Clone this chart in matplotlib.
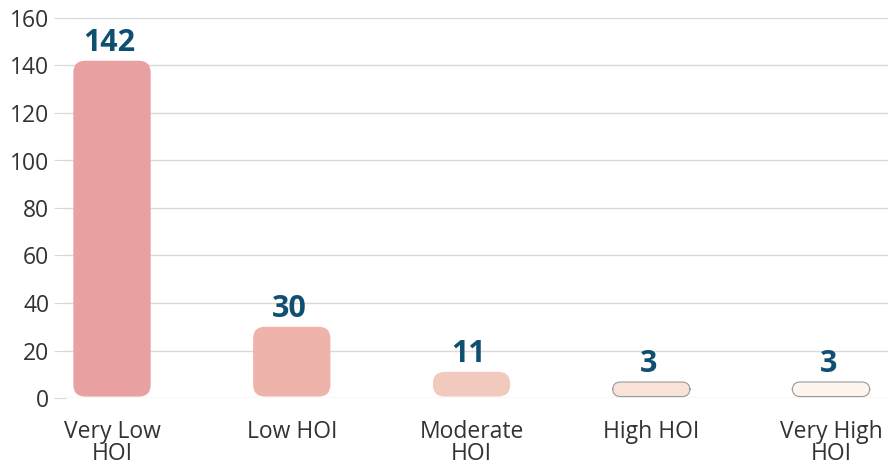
import numpy as np
import matplotlib.pyplot as plt
from matplotlib.patches import FancyBboxPatch

categories = ["Very Low\nHOI", "Low HOI", "Moderate\nHOI", "High HOI", "Very High\nHOI"]
values = [142, 30, 11, 3, 3]
colors = ["#E8A0A0", "#EEB4AB", "#F2CABD", "#F9E3D6", "#FEF5EF"]
edges = ["none", "none", "none", "#9A9A9A", "#9A9A9A"]

plt.rcParams['font.family'] = ['Open Sans', 'DejaVu Sans']

W, H = 888, 465
fig = plt.figure(figsize=(W / 100, H / 100), dpi=100)
ax = fig.add_axes([66 / W, (H - 398) / H, (888 - 66) / W, 380 / H])

ax.set_ylim(0, 160)
ax.set_xlim(-0.256, 4.317)

px_x = (4.317 + 0.256) / (888 - 66)   # x units per pixel
px_y = 160 / 380                       # y units per pixel
min_h = 16 * px_y
bar_w = 0.43
radius = 12 * px_x

for i, (v, c, e) in enumerate(zip(values, colors, edges)):
    h = max(v, min_h)
    r = min(radius, h / 2 / (px_y / px_x) * 0.99)
    box = FancyBboxPatch((i - bar_w / 2, 0.6), bar_w, h - 0.6,
                         boxstyle=f"round,pad=0,rounding_size={r}",
                         mutation_aspect=px_y / px_x,
                         facecolor=c, edgecolor=e, linewidth=0.8, zorder=3)
    ax.add_patch(box)
    ax.text(i - 0.015, h + 3 * px_y, str(v), ha='center', va='bottom',
            fontsize=22, fontweight='bold', color='#0F4F70', zorder=4)

ax.set_yticks(np.arange(0, 161, 20))
ax.grid(axis='y', color='#D9D9D9', linewidth=1, zorder=0)
ax.set_xticks(range(len(categories)))
ax.set_xticklabels(categories, linespacing=0.9)
ax.tick_params(axis='x', length=0, pad=16, labelsize=16.5, labelcolor='#333333')
ax.tick_params(axis='y', length=9, color='#D9D9D9', labelsize=16.5, labelcolor='#333333', pad=3)
for s in ax.spines.values():
    s.set_visible(False)

fig.savefig("out.png", dpi=100)
